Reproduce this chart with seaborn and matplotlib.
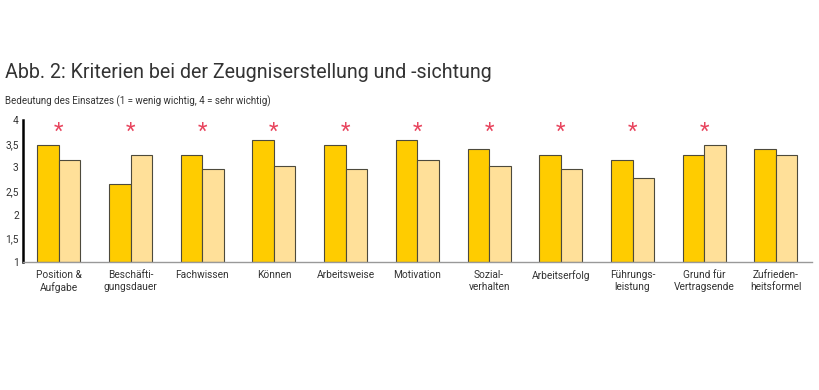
import numpy as np
import pandas as pd
import matplotlib
matplotlib.use("Agg")
import matplotlib.pyplot as plt
import seaborn as sns

# categories and values
kriterien = ["Position &\nAufgabe", "Beschäfti-\ngungsdauer", "Fachwissen", "Können",
             "Arbeitsweise", "Motivation", "Sozial-\nverhalten", "Arbeitserfolg",
             "Führungs-\nleistung", "Grund für\nVertragsende", "Zufrieden-\nheitsformel"]
erstellung = [3.48, 2.65, 3.26, 3.58, 3.48, 3.58, 3.38, 3.26, 3.16, 3.26, 3.38]
sichtung = [3.16, 3.26, 2.96, 3.03, 2.96, 3.16, 3.03, 2.96, 2.77, 3.48, 3.26]
signifikant = [True] * 10 + [False]
yticks = [1, 1.5, 2, 2.5, 3, 3.5, 4]
ytick_labels = ["1", "1,5", "2", "2,5", "3", "3,5", "4"]

sns.set_theme(style="white")
plt.rcParams["font.family"] = ["Roboto", "DejaVu Sans"]

df = pd.DataFrame({
    "kriterium": kriterien * 2,
    "wert": erstellung + sichtung,
    "gruppe": ["Erstellung"] * len(kriterien) + ["Sichtung"] * len(kriterien),
})

fig = plt.figure(figsize=(8.2, 3.9), dpi=100)
ax = fig.add_axes([0.028, 0.328, 0.962, 0.364])

sns.barplot(data=df, x="kriterium", y="wert", hue="gruppe",
            palette=["#FFCC00", "#FFE099"], saturation=1, width=0.6,
            edgecolor="#4d4a3c", linewidth=0.8, legend=False, ax=ax)

# bars start at 1, so rebuild heights from baseline 1
for p in ax.patches:
    h = p.get_height()
    p.set_y(1)
    p.set_height(h - 1)

for i, sig in enumerate(signifikant):
    if sig:
        ax.text(i, 3.74, "*", color="#e8455e", fontsize=16, ha="center", va="center")

ax.set_ylim(1, 4)
ax.set_xlim(-0.5, len(kriterien) - 0.5)
ax.set_yticks(yticks)
ax.set_yticklabels(ytick_labels)
ax.tick_params(axis="both", length=0, labelsize=7.3, colors="#333333", pad=3)
ax.tick_params(axis="x", pad=6)
ax.set_xlabel("")
ax.set_ylabel("")
for s in ["top", "right"]:
    ax.spines[s].set_visible(False)
ax.spines["left"].set_color("black")
ax.spines["left"].set_linewidth(1.8)
ax.spines["bottom"].set_color("#999999")
ax.spines["bottom"].set_linewidth(1)

fig.text(0.006, 0.815, "Abb. 2: Kriterien bei der Zeugniserstellung und -sichtung",
         fontsize=14.1, color="#333333", va="center")
fig.text(0.006, 0.74, "Bedeutung des Einsatzes (1 = wenig wichtig, 4 = sehr wichtig)",
         fontsize=7, color="#333333", va="center")

fig.savefig("out.png", dpi=100, facecolor="white")
